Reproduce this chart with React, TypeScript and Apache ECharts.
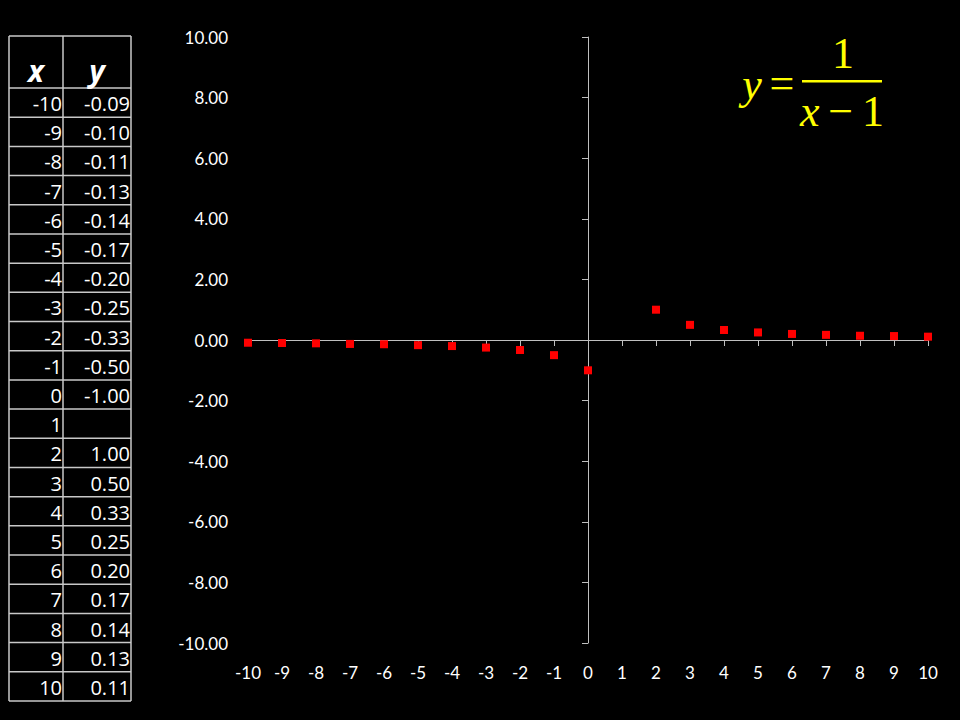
import React, { useEffect, useRef } from "react";
import * as echarts from "echarts";

const xValues = [-10, -9, -8, -7, -6, -5, -4, -3, -2, -1, 0, 1, 2, 3, 4, 5, 6, 7, 8, 9, 10];
const yValues: (number | null)[] = [
  -0.09, -0.1, -0.11, -0.13, -0.14, -0.17, -0.2, -0.25, -0.33, -0.5, -1.0,
  null, 1.0, 0.5, 0.33, 0.25, 0.2, 0.17, 0.14, 0.13, 0.11,
];
const yTickLabels = ["-10.00", "-8.00", "-6.00", "-4.00", "-2.00", "0.00", "2.00", "4.00", "6.00", "8.00", "10.00"];
const xTickLabels = xValues.map((v) => String(v));
const tableHeaders = ["x", "y"];

export default function App() {
  const ref = useRef<HTMLDivElement>(null);
  useEffect(() => {
    if (!ref.current) return;
    const chart = echarts.init(ref.current, null, { renderer: "svg" });

    const tblLeft = 9;
    const tblMid = 63;
    const tblRight = 131;
    const tblTop = 36;
    const headerBottom = 88;
    const rowH = (701 - headerBottom) / xValues.length;
    const lineColor = "#c8c8c8";
    const tFont = "20px 'Open Sans'";
    const gfx: any[] = [];
    gfx.push({ type: "line", shape: { x1: tblLeft, y1: tblTop, x2: tblRight, y2: tblTop }, style: { stroke: lineColor, lineWidth: 1.5 } });
    gfx.push({ type: "line", shape: { x1: tblLeft, y1: tblTop, x2: tblLeft, y2: 701 }, style: { stroke: lineColor, lineWidth: 1.5 } });
    gfx.push({ type: "line", shape: { x1: tblMid, y1: tblTop, x2: tblMid, y2: 701 }, style: { stroke: lineColor, lineWidth: 1.5 } });
    gfx.push({ type: "line", shape: { x1: tblRight, y1: tblTop, x2: tblRight, y2: 701 }, style: { stroke: lineColor, lineWidth: 1.5 } });
    gfx.push({ type: "line", shape: { x1: tblLeft, y1: headerBottom, x2: tblRight, y2: headerBottom }, style: { stroke: lineColor, lineWidth: 1.5 } });
    gfx.push({ type: "text", x: (tblLeft + tblMid) / 2, y: (tblTop + headerBottom) / 2 + 8, style: { text: tableHeaders[0], fill: "#fff", font: "italic bold 30px 'Open Sans'", textAlign: "center", textVerticalAlign: "middle" } });
    gfx.push({ type: "text", x: (tblMid + tblRight) / 2, y: (tblTop + headerBottom) / 2 + 8, style: { text: tableHeaders[1], fill: "#fff", font: "italic bold 30px 'Open Sans'", textAlign: "center", textVerticalAlign: "middle" } });
    xValues.forEach((xv, i) => {
      const yTop = headerBottom + i * rowH;
      const yBot = yTop + rowH;
      gfx.push({ type: "line", shape: { x1: tblLeft, y1: yBot, x2: tblRight, y2: yBot }, style: { stroke: lineColor, lineWidth: 1.5 } });
      gfx.push({ type: "text", x: tblMid - 1, y: (yTop + yBot) / 2 + 1, style: { text: String(xv), fill: "#fff", font: tFont, textAlign: "right", textVerticalAlign: "middle" } });
      const yv = yValues[i];
      if (yv !== null) {
        gfx.push({ type: "text", x: tblRight - 1, y: (yTop + yBot) / 2 + 1, style: { text: yv.toFixed(2), fill: "#fff", font: tFont, textAlign: "right", textVerticalAlign: "middle" } });
      }
    });
    const fy = "#ffff00";
    const serif = "'Liberation Serif', 'DejaVu Serif', serif";
    gfx.push({ type: "text", x: 752, y: 84, style: { text: "y", fill: fy, font: `italic 44px ${serif}`, textAlign: "center", textVerticalAlign: "middle" } });
    gfx.push({ type: "text", x: 782, y: 83, style: { text: "=", fill: fy, font: `44px ${serif}`, textAlign: "center", textVerticalAlign: "middle" } });
    gfx.push({ type: "rect", shape: { x: 802, y: 80, width: 80, height: 2.5 }, style: { fill: fy } });
    gfx.push({ type: "text", x: 843, y: 53, style: { text: "1", fill: fy, font: `44px ${serif}`, textAlign: "center", textVerticalAlign: "middle" } });
    gfx.push({
      type: "text", x: 842, y: 111,
      style: {
        text: "{i|x}{n|\u2009\u2212\u20091}",
        fill: fy,
        fontFamily: "Liberation Serif",
        fontSize: 44,
        textAlign: "center",
        textVerticalAlign: "middle",
        rich: {
          i: { fontStyle: "italic", fontSize: 44, fontFamily: "Liberation Serif", fill: fy },
          n: { fontStyle: "normal", fontSize: 44, fontFamily: "Liberation Serif", fill: fy },
        },
      },
    });

    const axisFont = { color: "#ffffff", fontSize: 17, fontFamily: "Lato" };
    const axisLineColor = "#bfbfbf";

    chart.setOption({
      animation: false,
      backgroundColor: "#000000",
      grid: { left: 248, right: 32, top: 37, bottom: 77, containLabel: false },
      xAxis: [
        {
          type: "value", min: -10, max: 10, interval: 1,
          axisLine: { show: true, onZero: true, onZeroAxisIndex: 0, lineStyle: { color: axisLineColor, width: 1 } },
          axisTick: { show: true, inside: false, length: 6, lineStyle: { color: axisLineColor } },
          axisLabel: { show: false },
          splitLine: { show: false },
        },
        {
          type: "value", min: -10, max: 10, interval: 1, position: "bottom",
          axisLine: { show: false, onZero: false },
          axisTick: { show: false },
          axisLabel: { show: true, margin: 21, ...axisFont, formatter: (v: number) => xTickLabels[xValues.indexOf(v)] ?? String(v) },
          splitLine: { show: false },
        },
      ],
      yAxis: [
        {
          type: "value", min: -10, max: 10, interval: 2,
          axisLine: { show: true, onZero: true, onZeroAxisIndex: 0, lineStyle: { color: axisLineColor, width: 1 } },
          axisTick: { show: true, inside: false, length: 6, lineStyle: { color: axisLineColor } },
          axisLabel: { show: false },
          splitLine: { show: false },
        },
        {
          type: "value", min: -10, max: 10, interval: 2, position: "left",
          axisLine: { show: false, onZero: false },
          axisTick: { show: false },
          axisLabel: { show: true, margin: 20, ...axisFont, formatter: (v: number) => yTickLabels[(v + 10) / 2] },
          splitLine: { show: false },
        },
      ],
      series: [
        {
          type: "scatter",
          xAxisIndex: 0,
          yAxisIndex: 0,
          symbol: "rect",
          symbolSize: 8,
          itemStyle: { color: "#ff0000", opacity: 1 },
          data: xValues.map((x, i) => [x, yValues[i]]).filter((d) => d[1] !== null),
          z: 5,
        },
      ],
      graphic: gfx,
    });
    return () => chart.dispose();
  }, []);
  return <div ref={ref} style={{ width: 960, height: 720, position: "absolute", left: 0, top: 0 }} />;
}
